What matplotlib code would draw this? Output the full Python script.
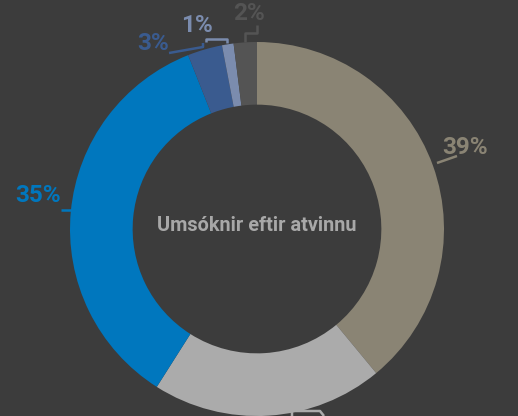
import matplotlib.pyplot as plt

# data
flokkar = ["A", "B", "C", "D", "E", "F"]
hlutfall = [39, 20, 35, 3, 1, 2]
litir = ["#8a8474", "#ababab", "#0077be", "#3a5b8f", "#7b8cae", "#545454"]
merki = ["39%", "20%", "35%", "3%", "1%", "2%"]
titill = "Umsóknir eftir atvinnu"

bg = "#3c3c3c"
S = 187.0  # pixels per unit radius
cx, cy = 257, 229


def px(x, y):
    # pixel -> data
    return (x - cx) / S, (cy - y) / S


fig = plt.figure(figsize=(5.18, 4.16), dpi=100, facecolor=bg)
ax = fig.add_axes([0, 0, 1, 1])
ax.set_facecolor(bg)

ax.pie(hlutfall, colors=litir, startangle=90, counterclock=False, radius=1.0,
       wedgeprops=dict(width=0.335, edgecolor="none"))

ax.set_xlim(-cx / S, (518 - cx) / S)
ax.set_ylim(-(416 - cy) / S, cy / S)
ax.set_aspect("equal")
ax.axis("off")

plt.rcParams["font.family"] = ["Roboto", "DejaVu Sans"]

ax.text(0, 0.02, titill, ha="center", va="center", color="#a8a8a8",
        fontsize=14.3, fontweight="bold")

# labels: (index, text position in px)
stadir = {0: (465, 148), 2: (38, 195), 3: (153, 44), 4: (197, 26), 5: (249, 14)}
for i, (x, y) in stadir.items():
    tx, ty = px(x, y)
    ax.text(tx, ty, merki[i], ha="center", va="center", color=litir[i],
            fontsize=17.5, fontweight="bold")

# leader lines
linur = [
    (0, [(437, 163), (457, 156)]),
    (2, [(71, 210), (61, 210)]),
    (3, [(203, 43), (203, 47), (169, 53)]),
    (4, [(206, 42), (206, 39), (227, 39), (227, 43)]),
    (5, [(245, 42), (245, 33), (257, 33), (257, 25)]),
    (1, [(292, 416), (292, 411), (320, 411), (324, 416)]),
]
for i, pts in linur:
    xs, ys = zip(*[px(a, b) for a, b in pts])
    ax.plot(xs, ys, color=litir[i], lw=1.8, solid_capstyle="butt")

plt.savefig("out.png", dpi=100, facecolor=bg)
